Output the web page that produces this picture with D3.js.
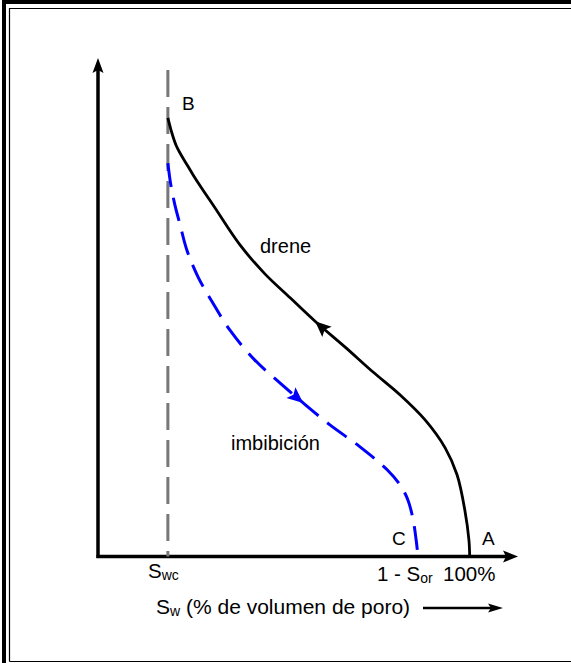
<!DOCTYPE html>
<html>
<head>
<meta charset="utf-8">
<script src="https://cdn.jsdelivr.net/npm/d3@7"></script>
<style>
  body { margin: 0; background: #fff; }
  svg text { font-family: "Liberation Sans", Arial, sans-serif; fill: #000; }
</style>
</head>
<body>
<div id="chart"></div>
<script>
// drenaje (A -> B), Sw en % y presion capilar en unidades relativas
var drainSw = [18.8, 19.9, 21.0, 22.1, 23.7, 25.8, 31.5, 38.2, 44.9, 51.7, 58.4, 66.5, 74.0, 81.3, 88.0, 93.4, 96.6, 98.7, 99.8, 100];
var drainPc = [88.0, 84.9, 82.5, 80.9, 78.9, 76.3, 69.9, 62.5, 56.7, 51.9, 47.2, 42.0, 37.0, 32.4, 27.4, 21.8, 16.4, 9.3, 3.3, 0];
// imbibicion (B -> C)
var imbSw = [18.8, 19.6, 20.7, 22.1, 23.9, 26.9, 30.7, 35.5, 42.2, 49.0, 55.2, 62.4, 70.5, 77.8, 81.3, 83.4, 84.8, 85.6, 86.1];
var imbPc = [78.9, 74.5, 70.5, 66.5, 61.5, 56.1, 51.1, 45.4, 39.4, 34.8, 30.8, 26.4, 22.0, 17.4, 14.3, 11.3, 7.3, 3.3, 0];
var swc = 18.8, sor1 = 86.1, swMax = 100;
var swcTop = 97.6;
var tickLabels = ["S|wc", "1 - S|or", "100%"];

var svg = d3.select("#chart").append("svg").attr("width", 571).attr("height", 663);

// marco doble
svg.append("path").attr("d", "M4,700 V2 H600").attr("fill", "none").attr("stroke", "#000").attr("stroke-width", 4);
svg.append("path").attr("d", "M9.5,661.5 V8.5 H600 M9.5,661.5 H600").attr("fill", "none").attr("stroke", "#000").attr("stroke-width", 1.2);

var x = d3.scaleLinear().domain([0, 113]).range([98, 518]);
var y = d3.scaleLinear().domain([0, 100]).range([556.5, 58]);

function arrowHead(g, tx, ty, ang, len, hw, color) {
    g.append("path")
        .attr("d", "M0,0 L" + (-len) + "," + (-hw) + " L" + (-len * 0.8) + ",0 L" + (-len) + "," + hw + " Z")
        .attr("transform", "translate(" + tx + "," + ty + ") rotate(" + ang + ")")
        .attr("fill", color);
}

// ejes
svg.append("line").attr("x1", x(0)).attr("x2", x(0)).attr("y1", y(0) + 1.5).attr("y2", y(100) + 12)
    .attr("stroke", "#000").attr("stroke-width", 3.5);
arrowHead(svg, x(0), y(100), -90, 15, 5.5, "#000");
svg.append("line").attr("x1", x(0) - 1.5).attr("x2", x(113) - 12).attr("y1", y(0)).attr("y2", y(0))
    .attr("stroke", "#000").attr("stroke-width", 3.5);
arrowHead(svg, x(113), y(0), 0, 15, 6, "#000");

// Swc
svg.append("line").attr("x1", x(swc)).attr("x2", x(swc)).attr("y1", y(swcTop)).attr("y2", y(0))
    .attr("stroke", "#777").attr("stroke-width", 3).attr("stroke-dasharray", "27,10");

var line = d3.line().curve(d3.curveCatmullRom.alpha(0.5));
var drainPts = drainSw.map(function(d, i) { return [x(d), y(drainPc[i])]; });
var imbPts = imbSw.map(function(d, i) { return [x(d), y(imbPc[i])]; });

svg.append("path").attr("d", line(imbPts)).attr("fill", "none")
    .attr("stroke", "#0000ff").attr("stroke-width", 3).attr("stroke-dasharray", "24,11");
svg.append("path").attr("d", line(drainPts)).attr("fill", "none")
    .attr("stroke", "#000").attr("stroke-width", 2.8);

function curveArrow(pts, i, dir, color) {
    var a = pts[i - dir], b = pts[i + dir];
    var ang = Math.atan2(b[1] - a[1], b[0] - a[0]) * 180 / Math.PI;
    arrowHead(svg, pts[i][0], pts[i][1], ang, 16, 7, color);
}
curveArrow(drainPts, 10, -1, "#000");
curveArrow(imbPts, 10, 1, "#0000ff");

// etiquetas
function label(t, px, py, size) {
    svg.append("text").attr("x", px).attr("y", py).attr("font-size", size).text(t);
}
label("B", 182, 110, 19);
label("drene", 260, 253, 20);
label("imbibición", 231, 450, 20);
label("C", 392, 545, 19);
label("A", 482, 545, 19);

function subLabel(spec, px, py, size, rest) {
    var p = spec.split("|");
    var t = svg.append("text").attr("x", px).attr("y", py).attr("font-size", size);
    t.append("tspan").text(p[0]);
    t.append("tspan").attr("font-size", 14).attr("dy", 2).text(p[1]);
    if (rest) t.append("tspan").attr("dy", -2).text(rest);
}
subLabel(tickLabels[0], 148, 578, 20.5);
subLabel(tickLabels[1], 377, 581, 20.5);
label(tickLabels[2], 443, 581, 20.5);
subLabel("S|w", 156, 614, 21, " (% de volumen de poro)");

svg.append("line").attr("x1", 423).attr("x2", 492).attr("y1", 608).attr("y2", 608)
    .attr("stroke", "#000").attr("stroke-width", 2.7);
arrowHead(svg, 503, 608, 0, 15, 4.5, "#000");
</script>
</body>
</html>
